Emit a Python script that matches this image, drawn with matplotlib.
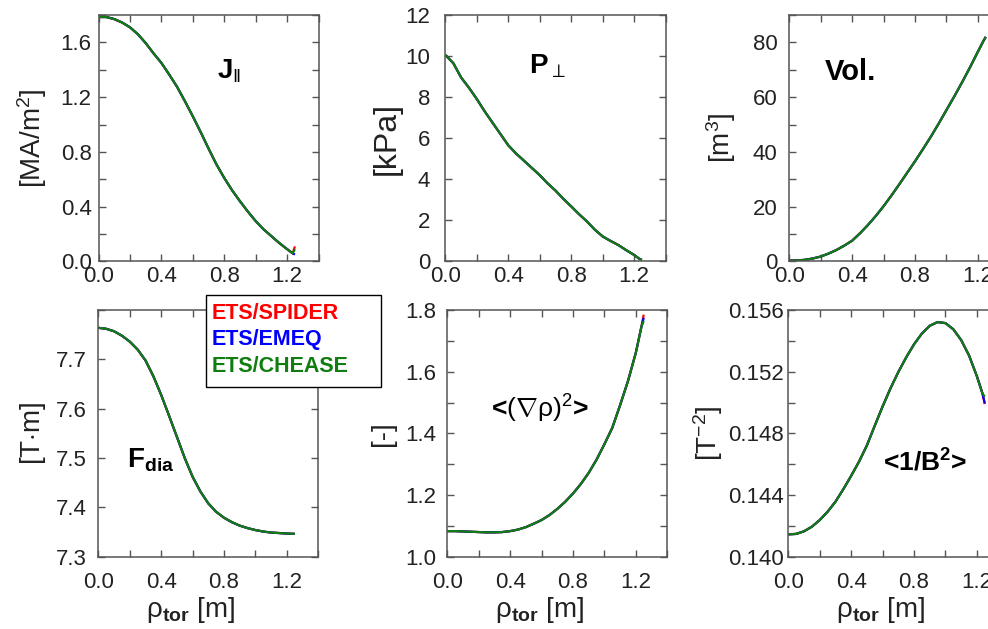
import numpy as np
import matplotlib
matplotlib.use("Agg")
import matplotlib.pyplot as plt
from matplotlib.patches import Rectangle
from matplotlib.ticker import MultipleLocator, FixedLocator

plt.rcParams['font.family'] = ['Liberation Sans', 'DejaVu Sans']
plt.rcParams['mathtext.fontset'] = 'custom'
plt.rcParams['mathtext.rm'] = 'Liberation Sans'
plt.rcParams['mathtext.it'] = 'Liberation Sans:italic'
plt.rcParams['mathtext.bf'] = 'Liberation Sans:bold'
plt.rcParams['mathtext.sf'] = 'Liberation Sans'

# ---- data ----
rho = [0.0, 0.05, 0.1, 0.15, 0.2, 0.25, 0.3, 0.35, 0.4, 0.45, 0.5, 0.55, 0.6,
       0.65, 0.7, 0.75, 0.8, 0.85, 0.9, 0.95, 1.0, 1.05, 1.1, 1.15, 1.2, 1.235]

j_par = [1.785, 1.785, 1.77, 1.745, 1.71, 1.66, 1.595, 1.52, 1.45, 1.365, 1.275,
         1.17, 1.06, 0.945, 0.825, 0.71, 0.61, 0.52, 0.44, 0.365, 0.295, 0.235,
         0.185, 0.135, 0.09, 0.06]
p_perp = [10.05, 9.65, 8.95, 8.45, 7.9, 7.3, 6.75, 6.2, 5.65, 5.25, 4.9, 4.55,
          4.2, 3.8, 3.45, 3.05, 2.68, 2.3, 1.95, 1.55, 1.22, 1.0, 0.8, 0.55,
          0.32, 0.12]
vol = [0.3, 0.4, 0.6, 1.1, 1.8, 2.9, 4.2, 5.8, 7.6, 10.3, 13.3, 16.6, 20.2,
       24.1, 28.2, 32.4, 36.6, 41.0, 45.5, 50.3, 55.3, 60.3, 65.5, 70.9, 76.6,
       80.5]
f_dia = [7.764, 7.762, 7.757, 7.748, 7.736, 7.720, 7.698, 7.666, 7.628, 7.586,
         7.543, 7.500, 7.462, 7.432, 7.408, 7.391, 7.379, 7.370, 7.363, 7.358,
         7.354, 7.351, 7.349, 7.348, 7.347, 7.3465]
grad_rho2 = [1.083, 1.083, 1.082, 1.081, 1.080, 1.079, 1.079, 1.080, 1.083,
             1.088, 1.096, 1.107, 1.119, 1.135, 1.155, 1.178, 1.205, 1.236,
             1.272, 1.315, 1.365, 1.418, 1.492, 1.570, 1.662, 1.745]
inv_b2 = [0.14145, 0.14148, 0.14165, 0.14195, 0.14238, 0.14292, 0.14357,
          0.14438, 0.14525, 0.14617, 0.14722, 0.14850, 0.14975, 0.15092,
          0.15198, 0.15293, 0.15378, 0.15448, 0.15498, 0.15522, 0.15515,
          0.15475, 0.15405, 0.15305, 0.15170, 0.15060]

# where the three codes part at the plasma edge
rho_tail = [1.235, 1.25]
j_tail = {"spider": [0.06, 0.11], "emeq": [0.06, 0.05], "chease": [0.06, 0.09]}
grad_tail = {"spider": [1.745, 1.785], "emeq": [1.745, 1.775], "chease": [1.745, 1.765]}
invb2_tail = {"spider": [0.15060, 0.14990], "emeq": [0.15060, 0.14995], "chease": [0.15060, 0.15038]}
p_tail = {"spider": [0.12, 0.08], "emeq": [0.12, 0.08], "chease": [0.12, 0.08]}
vol_tail = {"spider": [80.5, 82.0], "emeq": [80.5, 82.0], "chease": [80.5, 82.0]}
f_tail = {"spider": [7.3465, 7.3465], "emeq": [7.3465, 7.3465], "chease": [7.3465, 7.3465]}

codes = ["spider", "emeq", "chease"]
labels = ["ETS/SPIDER", "ETS/EMEQ", "ETS/CHEASE"]
colors = {"spider": "#ff0000", "emeq": "#0000ff", "chease": "#0f7d0f"}

fig = plt.figure(figsize=(9.88, 6.29), dpi=100)

W = 0.2227
panels = [
    # position, profile, tail, ylim, minor, ylabel, label size, labelx, title, title_xy, title_size, ypad, xpad, yticks, ytick labels
    ([0.0997, 0.5843, W, 0.3919], j_par, j_tail, (0, 1.8), 0.2, '[MA/m$^2$]', 20, -0.223,
     r'$\mathbf{J}_{\|}$', (0.54, 0.77), 20, 5, 3,
     [0.0, 0.4, 0.8, 1.2, 1.6], ['0.0', '0.4', '0.8', '1.2', '1.6']),
    ([0.4509, 0.5843, W, 0.3919], p_perp, p_tail, (0, 12), 2, '[kPa]', 23, -0.2,
     r'$\mathbf{P}_{\perp}$', (0.38, 0.79), 20, 11, 3,
     [0, 2, 4, 6, 8, 10, 12], ['0', '2', '4', '6', '8', '10', '12']),
    ([0.7989, 0.5843, W, 0.3919], vol, vol_tail, (0, 90), 10, '[m$^3$]', 20, -0.233,
     'Vol.', (0.16, 0.77), 21, 8.5, 3,
     [0, 20, 40, 60, 80], ['0', '20', '40', '60', '80']),
    ([0.0995, 0.1149, W, 0.3922], f_dia, f_tail, (7.3, 7.8), 0.1, '[T$\\cdot$m]', 20, -0.228,
     r'$\mathbf{F}_{\mathbf{dia}}$', (0.13, 0.39), 20, 8.5, 11,
     [7.3, 7.4, 7.5, 7.6, 7.7], ['7.3', '7.4', '7.5', '7.6', '7.7']),
    ([0.4527, 0.1149, W, 0.3922], grad_rho2, grad_tail, (1.0, 1.8), 0.1, '[-]', 20, -0.232,
     r'<$(\nabla\mathrm{\rho})^2$>', (0.2, 0.6), 19, 8, 11,
     [1.0, 1.2, 1.4, 1.6, 1.8], ['1.0', '1.2', '1.4', '1.6', '1.8']),
    ([0.7979, 0.1149, W, 0.3922], inv_b2, invb2_tail, (0.140, 0.156), 0.002, '[T$^{-2}$]', 20, -0.288,
     r'<1/B$^\mathbf{2}$>', (0.43, 0.38), 19, 3, 11,
     [0.140, 0.144, 0.148, 0.152, 0.156], ['0.140', '0.144', '0.148', '0.152', '0.156']),
]

spine_col = "#555555"
for i, (pos, prof, tail, ylim, mnr, ylab, lsize, labx, title, txy, tsize,
        ypad, xpad, yt, ytl) in enumerate(panels):
    ax = fig.add_axes(pos)
    for c in codes:
        ax.plot(rho + rho_tail[1:], prof + tail[c][1:], color=colors[c], lw=1.6,
                solid_capstyle='butt')
    ax.set_xlim(0, 1.4)
    ax.set_ylim(*ylim)
    ax.xaxis.set_major_locator(FixedLocator([0.0, 0.4, 0.8, 1.2]))
    ax.xaxis.set_minor_locator(MultipleLocator(0.2))
    ax.yaxis.set_major_locator(FixedLocator(yt))
    ax.yaxis.set_minor_locator(MultipleLocator(mnr))
    ax.set_yticklabels(ytl)
    ax.set_xticklabels(['0.0', '0.4', '0.8', '1.2'])
    ax.tick_params(which='both', direction='in', top=True, right=True,
                   length=5, width=1, color=spine_col, labelsize=16,
                   labelcolor='#222222')
    ax.tick_params(axis='y', which='both', pad=ypad)
    ax.tick_params(axis='x', which='both', pad=xpad)
    for s in ax.spines.values():
        s.set_color(spine_col)
        s.set_linewidth(1.1)
    ax.set_ylabel(ylab, fontsize=lsize, color='#222222')
    ax.yaxis.set_label_coords(labx, 0.5)
    if i >= 3:
        ax.set_xlabel(r'$\mathrm{\rho}_{\mathbf{tor}}$ [m]', fontsize=20, color='#222222')
        ax.xaxis.set_label_coords(0.42, -0.155)
    ax.text(txy[0], txy[1], title, transform=ax.transAxes, fontsize=tsize,
            fontweight='bold', color='black', ha='left', va='center')

# legend box (text only, coloured)
fig.patches.append(Rectangle((206 / 988, 1 - 387 / 629), 175 / 988, 92 / 629,
                             transform=fig.transFigure, facecolor='white',
                             edgecolor='black', lw=1.0, zorder=10))
for k, (c, lab) in enumerate(zip(codes, labels)):
    fig.text(212 / 988, 1 - (313 + 27 * k) / 629, lab, color=colors[c],
             fontsize=15.5, fontweight='bold', ha='left', va='center', zorder=11)

fig.savefig("out.png", dpi=100)
